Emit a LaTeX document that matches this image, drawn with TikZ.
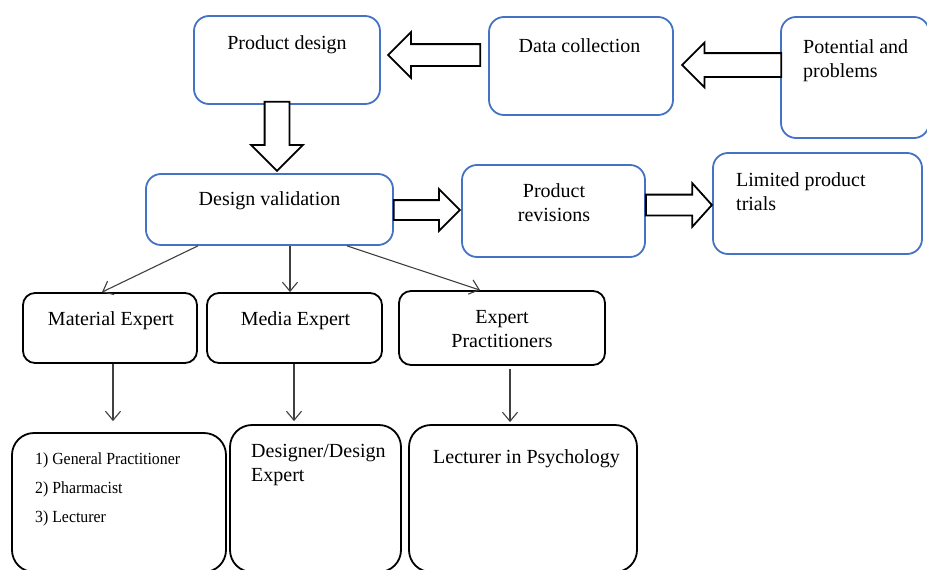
\documentclass[tikz,border=0pt]{standalone}
\usepackage{fontspec}
\setmainfont{Liberation Serif}
\newfontfamily\narrowserif{Liberation Serif}[FakeStretch=0.93]
\usetikzlibrary{arrows.meta,shapes.arrows,calc}
\definecolor{boxblue}{HTML}{4472C4}
\definecolor{thinline}{HTML}{404040}
\newcommand\shaftbox[1]{\hbox to #1{\vrule height #1 width 0pt depth 0pt\hfil}}
\begin{document}
\begin{tikzpicture}[x=1pt,y=-1pt,
  bluebox/.style={draw=boxblue,line width=1.8pt,rounded corners=15pt,inner sep=0pt,fill=white},
  blackbox/.style={draw=black,line width=1.8pt,rounded corners=12pt,inner sep=0pt,fill=white},
  bigbox/.style={draw=black,line width=1.8pt,rounded corners=22pt,inner sep=0pt,fill=white},
  txt/.style={inner sep=0pt,font=\fontsize{20}{23.5}\selectfont},
  smalltxt/.style={inner sep=0pt,font=\narrowserif\fontsize{17}{29}\selectfont},
  hollow/.style={single arrow,draw=black,fill=white,line width=1.8pt,inner sep=0pt,anchor=tip,single arrow tip angle=90},
  thin/.style={draw=thinline,line width=1.1pt,-{Straight Barb[length=9pt,width=15pt,line width=1.1pt]}}
]
\useasboundingbox (0,0) rectangle (927,570);
\clip (0,0) rectangle (927,570);
\fill[white] (0,0) rectangle (927,570);

% boxes
\node[bluebox,minimum width=186pt,minimum height=88pt] (pd) at (287,60) {};
\node[bluebox,minimum width=184pt,minimum height=98pt] (dc) at (581,66) {};
\node[bluebox,minimum width=148pt,minimum height=121pt] (pp) at (855,77.5) {};
\node[bluebox,minimum width=247pt,minimum height=71pt] (dv) at (269.5,209.5) {};
\node[bluebox,minimum width=183pt,minimum height=92pt] (pr) at (553.5,211) {};
\node[bluebox,minimum width=209pt,minimum height=101pt] (lpt) at (817.5,203.5) {};
\node[blackbox,minimum width=174pt,minimum height=70pt] (me) at (110,328) {};
\node[blackbox,minimum width=175pt,minimum height=70pt] (mde) at (294.5,328) {};
\node[blackbox,minimum width=206pt,minimum height=74pt] (ep) at (502,328) {};
\node[bigbox,minimum width=214pt,minimum height=139pt] (b1) at (119,502.5) {};
\node[bigbox,minimum width=171pt,minimum height=147pt] (b2) at (315.5,498.5) {};
\node[bigbox,minimum width=228pt,minimum height=147pt] (b3) at (523,498.5) {};

% texts
\node[txt,anchor=base] (tpd) at (287,49) {Product design};
\node[txt,anchor=base] (tdc) at (579.5,52) {Data collection};
\node[txt,anchor=north west,align=left] (tpp) at (803,39.5) {Potential and\\problems};
\node[txt,anchor=base] (tdv) at (269.5,205) {Design validation};
\node[txt,anchor=north,align=center] (tpr) at (554,183.5) {Product\\revisions};
\node[txt,anchor=north west,align=left] (tlpt) at (736,172.5) {Limited product\\trials};
\node[txt,anchor=base] (tme) at (111,325) {Material Expert};
\node[txt,anchor=base] (tmde) at (295.5,325) {Media Expert};
\node[txt,anchor=north,align=center] (tep) at (502,310.5) {Expert\\Practitioners};
\node[smalltxt,anchor=north west,align=left] (tb1) at (35,452.5) {1) General Practitioner\\2) Pharmacist\\3) Lecturer};
\node[txt,anchor=north west,align=left] (tb2) at (251,444.5) {Designer/Design\\Expert};
\node[txt,anchor=base west] (tb3) at (433,463) {Lecturer in Psychology};

% hollow block arrows
\node[hollow,shape border rotate=180,minimum height=92pt,minimum width=44pt,single arrow head extend=12pt]
  (a1) at ([shift={(6,-5)}]pd.east) {\shaftbox{20pt}};
\node[hollow,shape border rotate=180,minimum height=99pt,minimum width=43pt,single arrow head extend=10.5pt]
  (a2) at ([shift={(7,-1)}]dc.east) {\shaftbox{22pt}};
\node[hollow,shape border rotate=270,minimum height=69pt,minimum width=50pt,single arrow head extend=13.5pt]
  (a3) at ([shift={(7.5,-1)}]dv.north) {\shaftbox{23pt}};
\node[hollow,minimum height=66pt,minimum width=40pt,single arrow head extend=11pt]
  (a4) at ([shift={(0,-1)}]pr.west) {\shaftbox{18pt}};
\node[hollow,minimum height=66pt,minimum width=42pt,single arrow head extend=11.5pt,single arrow tip angle=96]
  (a5) at ([shift={(1,1.5)}]lpt.west) {\shaftbox{19pt}};

% thin arrows
\draw[thin] (dv.south -| me.east) -- ([xshift=-8pt]me.north);
\draw[thin] ([xshift=-4.5pt]dv.south -| mde.north) -- ([xshift=-4.5pt]mde.north);
\draw[thin] ([xshift=77.5pt]dv.south) -- ([xshift=-22pt]ep.north);
\draw[thin] ([xshift=3pt]me.south) -- ([shift={(-6,-11)}]b1.north);
\draw[thin] ([xshift=-0.5pt]mde.south) -- ([shift={(-21.5,-3)}]b2.north);
\draw[thin] ([shift={(8,3)}]ep.south) -- ([shift={(-13,-2)}]b3.north);
\end{tikzpicture}
\end{document}
